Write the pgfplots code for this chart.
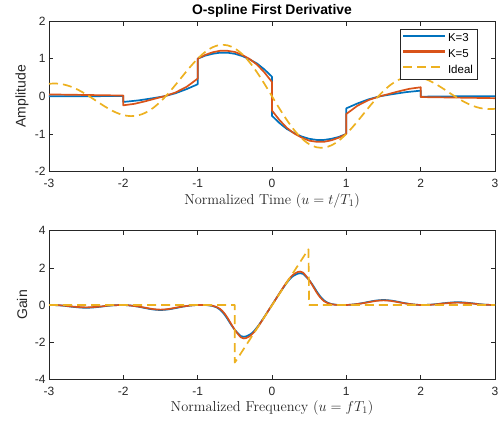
\documentclass[border=0pt]{standalone}
\usepackage{pgfplots}
\pgfplotsset{compat=1.18}
\usepackage{fontspec}
\setsansfont{Liberation Sans}
\definecolor{mblue}{RGB}{0,114,189}
\definecolor{morange}{RGB}{217,83,25}
\definecolor{myellow}{RGB}{237,177,32}
\definecolor{maxis}{RGB}{38,38,38}
\newcommand{\tickfont}{\sffamily\fontsize{12}{14}\selectfont}
\newcommand{\labfont}{\sffamily\fontsize{14}{16}\selectfont}
\pgfplotsset{
  mstyle/.style={
    scale only axis, width=446pt,
    xmin=-3, xmax=3,
    xtick={-3,-2,-1,0,1,2,3},
    xticklabels={-3,-2,-1,0,1,2,3},
    axis line style={maxis, line width=0.6pt},
    tick style={maxis, line width=0.6pt},
    major tick length=4.5pt,
    tick align=inside,
    ticklabel style={font=\tickfont, text=maxis},
    xticklabel style={yshift=-4pt},
    ylabel style={font=\labfont, text=maxis, at={(axis description cs:-0.0605,0.5)}, anchor=center},
    xlabel style={font=\fontsize{14.4}{16}\selectfont, text=maxis, anchor=base},
    every axis plot/.append style={line width=1.7pt, line join=round},
  }
}
\begin{document}
\begin{tikzpicture}
\useasboundingbox (0,0) rectangle (501pt,422pt);
\begin{axis}[mstyle,
  at={(49pt,250.5pt)}, anchor=south west, height=150.4pt,
  ymin=-2, ymax=2, ytick={-2,-1,0,1,2}, yticklabels={-2,-1,0,1,2},
  ylabel={Amplitude},
  xlabel={Normalized Time ($u=t/T_1$)},
  xlabel style={at={(axis description cs:0.5,-0.219)}},
  title={O-spline First Derivative},
  title style={font=\sffamily\bfseries\fontsize{13.9}{15}\selectfont, text=black, at={(axis description cs:0.5,1)}, anchor=base, yshift=0.3pt},
  legend style={at={(rel axis cs:0.96,0.947)}, anchor=north east, draw=maxis, fill=white,
    font=\sffamily\fontsize{11.5}{13}\selectfont, inner xsep=2pt, inner ysep=2.5pt, row sep=2pt},
  legend cell align=left,
  legend image code/.code={\draw[#1, line width=2.1pt] (0pt,2.5pt) -- (41.7pt,2.5pt);},
]
\addplot[mblue] coordinates {
(-3,0.00) (-2.5,0.00) (-2,0.01) (-2,-0.15) (-1.8,-0.11) (-1.6,-0.05) (-1.45,0.0) (-1.3,0.08) (-1.15,0.19) (-1,0.32)
(-1,1.0) (-0.9,1.08) (-0.8,1.13) (-0.7,1.16) (-0.6,1.16) (-0.5,1.13) (-0.4,1.07) (-0.3,0.98) (-0.2,0.87) (-0.1,0.71) (0,0.52)
(0,-0.52) (0.1,-0.71) (0.2,-0.87) (0.3,-0.98) (0.4,-1.07) (0.5,-1.13) (0.6,-1.16) (0.7,-1.16) (0.8,-1.13) (0.9,-1.08) (1,-1.0)
(1,-0.32) (1.15,-0.19) (1.3,-0.08) (1.45,0.0) (1.6,0.05) (1.8,0.11) (2,0.15) (2,-0.01) (2.5,0.0) (3,0.0)
};
\addlegendentry{K=3}
\addplot[morange] coordinates {
(-3,0.05) (-2.5,0.035) (-2,0.02) (-2,-0.24) (-1.85,-0.2) (-1.7,-0.13) (-1.55,-0.05) (-1.45,0.0) (-1.3,0.1) (-1.15,0.25) (-1,0.47)
(-1,1.0) (-0.9,1.1) (-0.8,1.17) (-0.7,1.21) (-0.6,1.21) (-0.5,1.18) (-0.4,1.1) (-0.3,0.99) (-0.2,0.84) (-0.1,0.63) (0,0.38)
(0,-0.38) (0.1,-0.63) (0.2,-0.84) (0.3,-0.99) (0.4,-1.1) (0.5,-1.18) (0.6,-1.21) (0.7,-1.21) (0.8,-1.17) (0.9,-1.1) (1,-1.0)
(1,-0.47) (1.15,-0.25) (1.3,-0.1) (1.45,0.0) (1.55,0.05) (1.7,0.13) (1.85,0.2) (2,0.24) (2,-0.02) (2.5,-0.035) (3,-0.05)
};
\addlegendentry{K=5}
\addplot[myellow, dash pattern=on 9pt off 5pt, smooth] coordinates {
(-3,0.3333) (-2.9,0.3396) (-2.8,0.3128) (-2.7,0.2530) (-2.6,0.1636) (-2.5,0.0509) (-2.4,-0.0762) (-2.3,-0.2069) (-2.2,-0.3291) (-2.1,-0.4306)
(-2,-0.5) (-1.9,-0.5278) (-1.8,-0.5072) (-1.7,-0.4349) (-1.6,-0.3114) (-1.5,-0.1415) (-1.4,0.0663) (-1.3,0.2998) (-1.2,0.5443) (-1.1,0.7833)
(-1,1.0) (-0.9,1.1782) (-0.8,1.3036) (-0.7,1.3652) (-0.6,1.3560) (-0.5,1.2732) (-0.4,1.1195) (-0.3,0.9020) (-0.2,0.6324) (-0.1,0.3257)
(0,0) (0.1,-0.3257) (0.2,-0.6324) (0.3,-0.9020) (0.4,-1.1195) (0.5,-1.2732) (0.6,-1.3560) (0.7,-1.3652) (0.8,-1.3036) (0.9,-1.1782)
(1,-1.0) (1.1,-0.7833) (1.2,-0.5443) (1.3,-0.2998) (1.4,-0.0663) (1.5,0.1415) (1.6,0.3114) (1.7,0.4349) (1.8,0.5072) (1.9,0.5278)
(2,0.5) (2.1,0.4306) (2.2,0.3291) (2.3,0.2069) (2.4,0.0762) (2.5,-0.0509) (2.6,-0.1636) (2.7,-0.2530) (2.8,-0.3128) (2.9,-0.3396) (3,-0.3333)
};
\addlegendentry{Ideal}
\end{axis}
\begin{axis}[mstyle,
  at={(49pt,42.7pt)}, anchor=south west, height=148.6pt,
  ymin=-4, ymax=4, ytick={-4,-2,0,2,4}, yticklabels={-4,-2,0,2,4},
  ylabel={Gain},
  xlabel={Normalized Frequency ($u=fT_1$)},
  xlabel style={at={(axis description cs:0.5,-0.218)}},
]
\addplot[mblue, smooth] coordinates {
(-3,0) (-2.9,-0.01) (-2.8,-0.04) (-2.7,-0.09) (-2.6,-0.13) (-2.5,-0.15) (-2.4,-0.13) (-2.3,-0.09) (-2.2,-0.04) (-2.1,-0.01)
(-2,0) (-1.9,-0.03) (-1.8,-0.09) (-1.7,-0.17) (-1.6,-0.24) (-1.5,-0.27) (-1.4,-0.24) (-1.3,-0.17) (-1.2,-0.09) (-1.1,-0.03)
(-1,0) (-0.9,0) (-0.85,-0.02) (-0.8,-0.05) (-0.75,-0.12) (-0.7,-0.25) (-0.65,-0.46) (-0.6,-0.74) (-0.55,-1.06) (-0.5,-1.34)
(-0.45,-1.56) (-0.42,-1.67) (-0.38,-1.71) (-0.35,-1.69) (-0.3,-1.6) (-0.25,-1.44) (-0.2,-1.2) (-0.15,-0.92) (-0.1,-0.62) (-0.05,-0.31)
(0,0) (0.05,0.31) (0.1,0.62) (0.15,0.92) (0.2,1.2) (0.25,1.44) (0.3,1.6) (0.35,1.69) (0.38,1.71) (0.42,1.67)
(0.45,1.56) (0.5,1.34) (0.55,1.06) (0.6,0.74) (0.65,0.46) (0.7,0.25) (0.75,0.12) (0.8,0.05) (0.85,0.02) (0.9,0)
(1,0) (1.1,0.03) (1.2,0.09) (1.3,0.17) (1.4,0.24) (1.5,0.27) (1.6,0.24) (1.7,0.17) (1.8,0.09) (1.9,0.03)
(2,0) (2.1,0.01) (2.2,0.04) (2.3,0.09) (2.4,0.13) (2.5,0.15) (2.6,0.13) (2.7,0.09) (2.8,0.04) (2.9,0.01) (3,0)
};
\addplot[morange, smooth] coordinates {
(-3,0) (-2.9,-0.01) (-2.8,-0.03) (-2.7,-0.08) (-2.6,-0.11) (-2.5,-0.13) (-2.4,-0.11) (-2.3,-0.08) (-2.2,-0.03) (-2.1,-0.01)
(-2,0) (-1.9,-0.03) (-1.8,-0.08) (-1.7,-0.15) (-1.6,-0.22) (-1.5,-0.25) (-1.4,-0.22) (-1.3,-0.15) (-1.2,-0.08) (-1.1,-0.03)
(-1,0) (-0.9,0) (-0.85,-0.01) (-0.8,-0.04) (-0.75,-0.1) (-0.7,-0.21) (-0.65,-0.4) (-0.6,-0.68) (-0.55,-1.02) (-0.5,-1.34)
(-0.45,-1.6) (-0.42,-1.74) (-0.38,-1.8) (-0.35,-1.78) (-0.3,-1.68) (-0.25,-1.5) (-0.2,-1.24) (-0.15,-0.94) (-0.1,-0.63) (-0.05,-0.31)
(0,0) (0.05,0.31) (0.1,0.63) (0.15,0.94) (0.2,1.24) (0.25,1.5) (0.3,1.68) (0.35,1.78) (0.38,1.8) (0.42,1.74)
(0.45,1.6) (0.5,1.34) (0.55,1.02) (0.6,0.68) (0.65,0.4) (0.7,0.21) (0.75,0.1) (0.8,0.04) (0.85,0.01) (0.9,0)
(1,0) (1.1,0.03) (1.2,0.08) (1.3,0.15) (1.4,0.22) (1.5,0.25) (1.6,0.22) (1.7,0.15) (1.8,0.08) (1.9,0.03)
(2,0) (2.1,0.01) (2.2,0.03) (2.3,0.08) (2.4,0.11) (2.5,0.13) (2.6,0.11) (2.7,0.08) (2.8,0.03) (2.9,0.01) (3,0)
};
\addplot[myellow, dash pattern=on 9pt off 5pt] coordinates {
(-3,0) (-0.5,0) (-0.5,-3.1) (0.49,3.0) (0.5,0) (3,0)
};
\end{axis}
\end{tikzpicture}
\end{document}
